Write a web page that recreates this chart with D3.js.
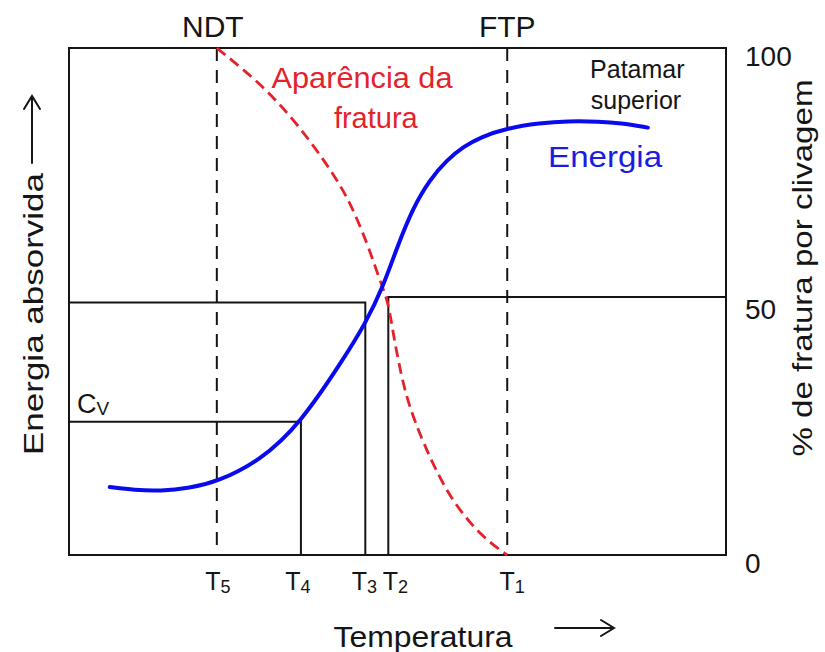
<!DOCTYPE html>
<html>
<head>
<meta charset="utf-8">
<script src="https://cdn.jsdelivr.net/npm/d3@7"></script>
<style>
  body { margin: 0; background: #fff; }
  svg { display: block; font-family: "Liberation Sans", Arial, sans-serif; }
</style>
</head>
<body>
<svg id="chart" width="825" height="652" viewBox="0 0 825 652"></svg>
<script>
// Temperature marks on the x axis (arbitrary temperature units, 0-100)
const tempSubs = ["5", "4", "3", "2", "1"];
const tempValues = [22.5, 35.3, 45.1, 48.6, 66.7];
const topNames = ["NDT", "FTP"];
const topValues = [22.5, 66.7];

// Absorbed energy curve (blue)
const energyT = [6.2, 10.0, 13.9, 18.4, 22.5, 29.1, 35.2, 41.7, 45.1, 47.8, 49.9, 52.4, 54.9, 57.5, 60.0, 62.6, 66.7, 71.7, 75.8, 80.8, 83.9, 88.1];
const energyE = [13.4, 12.8, 12.6, 13.2, 14.4, 18.6, 25.9, 38.5, 45.6, 52.9, 60.6, 68.6, 74.0, 77.9, 80.5, 82.4, 84.2, 85.2, 85.6, 85.5, 85.2, 84.3];

// Fracture appearance, % cleavage (red dashed)
const fracT = [22.5, 26.5, 30.1, 35.2, 40.2, 42.8, 45.4, 47.3, 48.6, 49.3, 50.1, 51.4, 53.9, 57.5, 61.5, 64.5, 66.7];
const fracP = [100, 95.8, 91.7, 84.4, 75.3, 69.5, 61.5, 54.2, 49.9, 44.0, 38.5, 30.6, 22.1, 12.2, 5.5, 2.0, 0];

// Right axis ticks
const pctTicks = [0, 50, 100];

// Reference levels
const cvLevel = 26.3;
const halfLeft = 49.8;
const halfRight = 50.9;

const svg = d3.select("#chart");
const plotLeft = 69, plotRight = 726, plotTop = 48, plotBottom = 555;

const x = d3.scaleLinear().domain([0, 100]).range([plotLeft, plotRight]);
const yE = d3.scaleLinear().domain([0, 100]).range([plotBottom, plotTop]);
const yP = d3.scaleLinear().domain([0, 100]).range([plotBottom, plotTop]);

const ink = "#151515";
const red = "#e4222b";
const blue = "#0a0aee";

// Frame
svg.append("rect")
    .attr("x", plotLeft).attr("y", plotTop)
    .attr("width", plotRight - plotLeft).attr("height", plotBottom - plotTop)
    .attr("fill", "none").attr("stroke", ink).attr("stroke-width", 2);

// Reference lines (Cv, 50% levels)
const refs = svg.append("g").attr("stroke", ink).attr("stroke-width", 2).attr("fill", "none");
refs.append("path").attr("d", `M${x(0)},${yE(cvLevel)}H${x(tempValues[1])}V${yE(0)}`);
refs.append("path").attr("d", `M${x(0)},${yE(halfLeft)}H${x(tempValues[2])}V${yE(0)}`);
refs.append("path").attr("d", `M${x(100)},${yP(halfRight)}H${x(tempValues[3])}V${yP(0)}`);

// Dashed NDT / FTP verticals
svg.append("g").selectAll("line")
    .data(topValues)
    .enter()
    .append("line")
    .attr("x1", d => x(d)).attr("x2", d => x(d))
    .attr("y1", yE(100)).attr("y2", yE(0))
    .attr("stroke", ink).attr("stroke-width", 2)
    .attr("stroke-dasharray", "13,9");

// Fracture appearance curve
const fracLine = d3.line()
    .x(d => x(d[0]))
    .y(d => yP(d[1]))
    .curve(d3.curveBasis);
svg.append("path")
    .attr("d", fracLine(d3.zip(fracT, fracP)))
    .attr("fill", "none").attr("stroke", red).attr("stroke-width", 2.8)
    .attr("stroke-dasharray", "11,6");

// Energy curve
const energyLine = d3.line()
    .x(d => x(d[0]))
    .y(d => yE(d[1]))
    .curve(d3.curveBasis);
svg.append("path")
    .attr("d", energyLine(d3.zip(energyT, energyE)))
    .attr("fill", "none").attr("stroke", blue).attr("stroke-width", 4)
    .attr("stroke-linecap", "round");

// Right axis
const axis = svg.append("g")
    .attr("transform", `translate(${plotRight},0)`)
    .call(d3.axisRight(yP).tickValues(pctTicks).tickSize(0).tickPadding(19));
axis.select(".domain").remove();
axis.selectAll("text")
    .attr("font-size", 28).attr("font-family", "Liberation Sans, Arial, sans-serif")
    .attr("fill", ink).attr("dy", "0.62em");

// T labels with subscripts (small nudges keep T3 and T2 apart)
const labelNudge = [1, -3, -1, 7, 5];
const tLabels = svg.append("g").selectAll("text")
    .data(tempValues)
    .enter()
    .append("text")
    .attr("x", (d, i) => x(d) + labelNudge[i])
    .attr("y", 590)
    .attr("text-anchor", "middle")
    .attr("fill", ink)
    .attr("font-size", 25);
tLabels.append("tspan").text("T");
tLabels.append("tspan")
    .attr("font-size", 18).attr("dy", 3)
    .text((d, i) => tempSubs[i]);

// NDT / FTP
svg.append("g").selectAll("text")
    .data(topNames)
    .enter()
    .append("text")
    .attr("x", (d, i) => x(topValues[i]) - (i === 0 ? 4 : 0))
    .attr("y", 37)
    .attr("text-anchor", "middle")
    .attr("font-size", 30).attr("fill", ink)
    .text(d => d);

// Cv
const cv = svg.append("text")
    .attr("x", x(1.2)).attr("y", yE(cvLevel) - 9)
    .attr("font-size", 27).attr("fill", ink);
cv.append("tspan").text("C");
cv.append("tspan").attr("font-size", 19).attr("dy", 2).text("V");

// Curve annotations
svg.append("text")
    .attr("x", x(44.6)).attr("y", yP(92.1))
    .attr("text-anchor", "middle").attr("font-size", 29).attr("fill", red)
    .attr("textLength", 181).attr("lengthAdjust", "spacingAndGlyphs")
    .text("Aparência da");
svg.append("text")
    .attr("x", x(46.7)).attr("y", yP(84.2))
    .attr("text-anchor", "middle").attr("font-size", 29).attr("fill", red)
    .text("fratura");
svg.append("text")
    .attr("x", x(81.6)).attr("y", yE(76.5))
    .attr("text-anchor", "middle").attr("font-size", 30).attr("fill", "#1c1ce0")
    .attr("textLength", 114).attr("lengthAdjust", "spacingAndGlyphs")
    .text("Energia");
svg.append("text")
    .attr("x", x(86.5)).attr("y", yE(94.1))
    .attr("text-anchor", "middle").attr("font-size", 25).attr("fill", ink)
    .text("Patamar");
svg.append("text")
    .attr("x", x(86.3)).attr("y", yE(87.9))
    .attr("text-anchor", "middle").attr("font-size", 25).attr("fill", ink)
    .text("superior");

// Axis titles
svg.append("text")
    .attr("x", 423).attr("y", 647)
    .attr("text-anchor", "middle").attr("font-size", 30).attr("fill", ink)
    .attr("textLength", 179).attr("lengthAdjust", "spacingAndGlyphs")
    .text("Temperatura");
svg.append("text")
    .attr("transform", "translate(43,314) rotate(-90)")
    .attr("text-anchor", "middle").attr("font-size", 28).attr("fill", ink)
    .attr("textLength", 282).attr("lengthAdjust", "spacingAndGlyphs")
    .text("Energia absorvida");
svg.append("text")
    .attr("transform", "translate(812,268) rotate(-90)")
    .attr("text-anchor", "middle").attr("font-size", 28).attr("fill", ink)
    .attr("textLength", 377).attr("lengthAdjust", "spacingAndGlyphs")
    .text("% de fratura por clivagem");

// Arrows next to the titles
const arrows = svg.append("g").attr("fill", "none").attr("stroke", ink)
    .attr("stroke-width", 2).attr("stroke-linecap", "round");
arrows.append("path").attr("d", "M32,163V96M24,109L32,96L40,109");
arrows.append("path").attr("d", "M555,628H614M601,620L614,628L601,636");
</script>
</body>
</html>
